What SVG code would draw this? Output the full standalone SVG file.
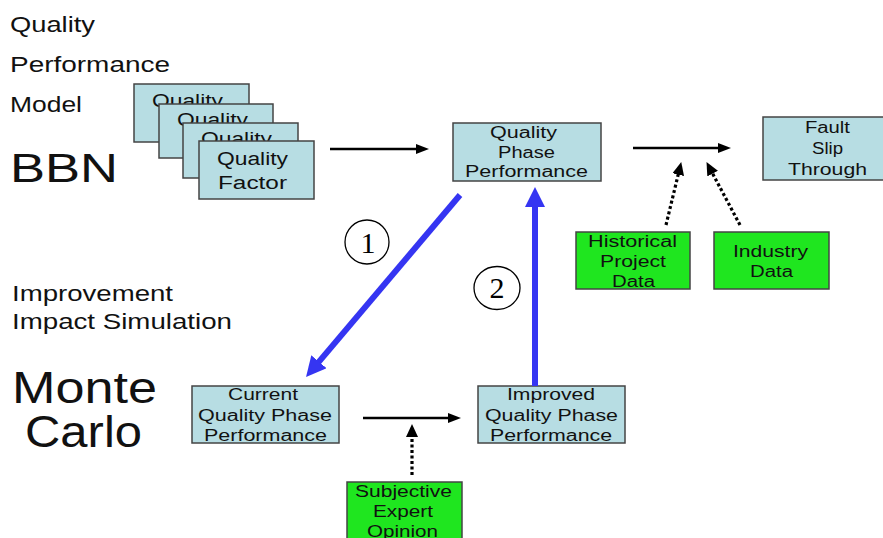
<svg xmlns="http://www.w3.org/2000/svg" width="883" height="538" viewBox="0 0 883 538">
<style>
  .t { font-family: "Liberation Sans", Arial, sans-serif; fill: #111; }
  .bx { fill: #b7dde3; stroke: #444; stroke-width: 1.5; }
  .gr { fill: #1fe61f; stroke: #444; stroke-width: 1.5; }
  .b15 { font-size: 16px; }
  .b17 { font-size: 18px; }
  .lbl { font-size: 22px; }
  .solid { stroke: #000; stroke-width: 2.5; fill: none; }
  .dot { stroke: #000; stroke-width: 3.2; fill: none; stroke-dasharray: 3 2.5; }
  .blue { stroke: #3535f2; stroke-width: 6; fill: none; }
  .circ { fill: none; stroke: #000; stroke-width: 1.3; }
  .num { font-family: "Liberation Serif", "Times New Roman", serif; font-size: 30px; fill: #000; }
</style>
<defs>
  <marker id="hb" markerUnits="userSpaceOnUse" markerWidth="13" markerHeight="10" refX="6" refY="5" orient="auto">
    <path d="M0,0 L13,5 L0,10 z" fill="#000"/>
  </marker>
  <marker id="hd" markerUnits="userSpaceOnUse" markerWidth="13" markerHeight="12" refX="6" refY="6" orient="auto">
    <path d="M0,0 L13,6 L0,12 z" fill="#000"/>
  </marker>
  <marker id="hblue" markerUnits="userSpaceOnUse" markerWidth="20" markerHeight="20" refX="10" refY="10" orient="auto">
    <path d="M0,0 L20,10 L0,20 z" fill="#3535f2"/>
  </marker>
</defs>

<!-- Left labels -->
<g id="label-qpm">
  <text class="t lbl" x="10" y="32" textLength="85" lengthAdjust="spacingAndGlyphs">Quality</text>
  <text class="t lbl" x="10" y="72" textLength="160" lengthAdjust="spacingAndGlyphs">Performance</text>
  <text class="t lbl" x="10" y="112" textLength="72" lengthAdjust="spacingAndGlyphs">Model</text>
</g>
<g id="label-bbn">
  <text class="t" x="10" y="182" font-size="40" textLength="108" lengthAdjust="spacingAndGlyphs">BBN</text>
</g>
<g id="label-iis">
  <text class="t lbl" x="12" y="301" textLength="161" lengthAdjust="spacingAndGlyphs">Improvement</text>
  <text class="t lbl" x="12" y="329" textLength="220" lengthAdjust="spacingAndGlyphs">Impact Simulation</text>
</g>
<g id="label-mc">
  <text class="t" x="12" y="403" font-size="44" textLength="145" lengthAdjust="spacingAndGlyphs">Monte</text>
  <text class="t" x="25" y="447" font-size="44" textLength="117" lengthAdjust="spacingAndGlyphs">Carlo</text>
</g>

<!-- Quality factor stack -->
<g id="qf1">
  <rect class="bx" x="134" y="84" width="115" height="58"/>
  <text class="t b17" x="152" y="107" textLength="71" lengthAdjust="spacingAndGlyphs">Quality</text>
</g>
<g id="qf2">
  <rect class="bx" x="159" y="104" width="114" height="54"/>
  <text class="t b17" x="177" y="126" textLength="71" lengthAdjust="spacingAndGlyphs">Quality</text>
</g>
<g id="qf3">
  <rect class="bx" x="183" y="123" width="115" height="55"/>
  <text class="t b17" x="201" y="145" textLength="71" lengthAdjust="spacingAndGlyphs">Quality</text>
</g>
<g id="qf4">
  <rect class="bx" x="199" y="141" width="115" height="58"/>
  <text class="t b17" x="217" y="165" textLength="71" lengthAdjust="spacingAndGlyphs">Quality</text>
  <text class="t b17" x="218" y="189" textLength="69" lengthAdjust="spacingAndGlyphs">Factor</text>
</g>

<!-- Quality Phase Performance -->
<g id="qpp">
  <rect class="bx" x="453" y="123" width="148" height="58"/>
  <text class="t b15" x="490" y="138" textLength="67" lengthAdjust="spacingAndGlyphs">Quality</text>
  <text class="t b15" x="498" y="158" textLength="57" lengthAdjust="spacingAndGlyphs">Phase</text>
  <text class="t b15" x="465" y="177" textLength="123" lengthAdjust="spacingAndGlyphs">Performance</text>
</g>

<!-- Fault Slip Through -->
<g id="fst">
  <rect class="bx" x="763" y="117" width="130" height="63"/>
  <text class="t b15" x="805" y="133" textLength="45" lengthAdjust="spacingAndGlyphs">Fault</text>
  <text class="t b15" x="812" y="154" textLength="31" lengthAdjust="spacingAndGlyphs">Slip</text>
  <text class="t b15" x="788" y="175" textLength="79" lengthAdjust="spacingAndGlyphs">Through</text>
</g>

<!-- Historical Project Data -->
<g id="hist">
  <rect class="gr" x="576" y="232" width="114" height="57"/>
  <text class="t b15" x="588" y="247" textLength="89" lengthAdjust="spacingAndGlyphs">Historical</text>
  <text class="t b15" x="600" y="267" textLength="66" lengthAdjust="spacingAndGlyphs">Project</text>
  <text class="t b15" x="612" y="287" textLength="43" lengthAdjust="spacingAndGlyphs">Data</text>
</g>

<!-- Industry Data -->
<g id="ind">
  <rect class="gr" x="714" y="232" width="115" height="57"/>
  <text class="t b15" x="733" y="257" textLength="75" lengthAdjust="spacingAndGlyphs">Industry</text>
  <text class="t b15" x="750" y="277" textLength="43" lengthAdjust="spacingAndGlyphs">Data</text>
</g>

<!-- Current Quality Phase Performance -->
<g id="cur">
  <rect class="bx" x="192" y="386" width="147" height="57"/>
  <text class="t b15" x="228" y="400" textLength="70" lengthAdjust="spacingAndGlyphs">Current</text>
  <text class="t b15" x="198" y="421" textLength="134" lengthAdjust="spacingAndGlyphs">Quality Phase</text>
  <text class="t b15" x="204" y="441" textLength="123" lengthAdjust="spacingAndGlyphs">Performance</text>
</g>

<!-- Improved Quality Phase Performance -->
<g id="imp">
  <rect class="bx" x="478" y="386" width="147" height="57"/>
  <text class="t b15" x="507" y="400" textLength="88" lengthAdjust="spacingAndGlyphs">Improved</text>
  <text class="t b15" x="485" y="421" textLength="133" lengthAdjust="spacingAndGlyphs">Quality Phase</text>
  <text class="t b15" x="490" y="441" textLength="122" lengthAdjust="spacingAndGlyphs">Performance</text>
</g>

<!-- Subjective Expert Opinion -->
<g id="seo">
  <rect class="gr" x="347" y="482" width="115" height="62"/>
  <text class="t b15" x="355" y="497" textLength="97" lengthAdjust="spacingAndGlyphs">Subjective</text>
  <text class="t b15" x="373" y="517" textLength="60" lengthAdjust="spacingAndGlyphs">Expert</text>
  <text class="t b15" x="367" y="537" textLength="71" lengthAdjust="spacingAndGlyphs">Opinion</text>
</g>

<!-- Step markers -->
<g id="step1">
  <ellipse class="circ" cx="367" cy="242" rx="22" ry="22"/>
  <text class="num" x="368" y="253" text-anchor="middle">1</text>
</g>
<g id="step2">
  <ellipse class="circ" cx="497" cy="288" rx="23" ry="21.5"/>
  <text class="num" x="497" y="298" text-anchor="middle">2</text>
</g>

<!-- Connectors -->
<g id="connectors">
  <line class="solid" x1="330" y1="149" x2="422" y2="149" marker-end="url(#hb)"/>
  <line class="solid" x1="633" y1="148" x2="724" y2="148" marker-end="url(#hb)"/>
  <line class="solid" x1="363" y1="418" x2="454" y2="418" marker-end="url(#hb)"/>
  <line class="dot" x1="666" y1="225" x2="679.6" y2="168.8" marker-end="url(#hd)"/>
  <line class="dot" x1="740" y1="225" x2="709.8" y2="168.3" marker-end="url(#hd)"/>
  <line class="dot" x1="412" y1="475" x2="412" y2="431" marker-end="url(#hd)"/>
  <line class="blue" x1="460" y1="195" x2="312.5" y2="369.4" marker-end="url(#hblue)"/>
  <line class="blue" x1="535" y1="386" x2="535" y2="197" marker-end="url(#hblue)"/>
</g>
</svg>
